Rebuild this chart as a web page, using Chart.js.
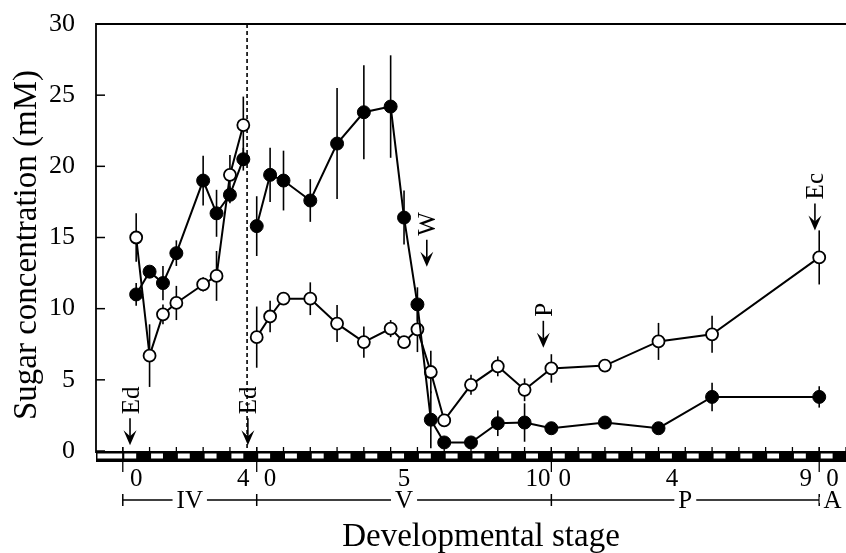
<!DOCTYPE html>
<html>
<head>
<meta charset="utf-8">
<script src="https://cdn.jsdelivr.net/npm/chart.js@4.4.0/dist/chart.umd.min.js"></script>
<style>
  html, body { margin: 0; padding: 0; background: #fff; overflow: hidden; }
  canvas { display: block; }
</style>
</head>
<body>
<canvas id="sugarChart" width="846" height="553"></canvas>
<script>
// days counted from day 0 of stage IV (one unit = one light/dark day)
const days = [0.5, 1, 1.5, 2, 3, 3.5, 4, 4.5, 5, 5.5, 6, 7, 8, 9, 10, 10.5, 11, 11.5, 12, 13, 14, 15, 16, 18, 20, 22, 26];
const filledMean = [11.0, 12.6, 11.8, 13.9, 19.0, 16.7, 18.0, 20.5, 15.8, 19.4, 19.0, 17.6, 21.6, 23.8, 24.2, 16.4, 10.3, 2.2, 0.6, 0.6, 1.95, 2.0, 1.6, 2.0, 1.6, 3.8, 3.8];
const filledErr  = [0.8, 0.4, 1.2, 0.9, 1.75, 1.65, 0.6, 0.8, 2.1, 1.9, 2.1, 1.5, 3.9, 3.3, 3.6, 1.9, 1.2, 2.0, 0.3, 0.3, 0.9, 1.35, 0.3, 0.3, 0.3, 1.0, 0.75];
const openMean   = [15.0, 6.7, 9.6, 10.4, 11.7, 12.3, 19.4, 22.9, 8.0, 9.45, 10.7, 10.7, 8.95, 7.65, 8.6, 7.65, 8.55, 5.55, 2.15, 4.65, 5.95, 4.3, 5.8, 6.0, 7.7, 8.2, 13.6];
const openErr    = [1.7, 2.2, 0.7, 1.2, 0.5, 1.75, 1.4, 2.0, 2.15, 1.1, 0.4, 1.15, 1.3, 1.1, 0.6, 0.4, 1.6, 1.5, 0.3, 0.7, 0.7, 0.8, 1.0, 0.3, 1.3, 1.3, 1.9];

// moult IV -> V (dashed line), lines are not joined across it
const dividerDay = 4.64;

// stages and the day numbers written under the strip
const stageNames = ['IV', 'V', 'P', 'A'];
const stageStart = [0, 5, 16, 26];
const stageEnd   = [5, 16, 26, 27];
const dayTickAt    = [0.5, 4.5, 5.5, 10.5, 15.5, 16.5, 20.5, 25.5, 26.5];
const dayTickLabel = ['0', '4', '0', '5', '10', '0', '4', '9', '0'];

// event arrows
const arrowDay   = [0.27, 4.67, 11.35, 15.7, 25.84];
const arrowTip   = [0.4, 0.4, 12.95, 7.25, 15.5];
const arrowLabel = ['Ed', 'Ed', 'W', 'P', 'Ec'];

const serif = '"Liberation Serif", "DejaVu Serif", serif';

const decor = {
  id: 'decor',
  beforeDatasetsDraw(chart) {
    const {ctx, chartArea: a, scales: {x, y}} = chart;
    ctx.save();
    ctx.strokeStyle = '#000';
    ctx.lineWidth = 1.6;
    [[filledMean, filledErr], [openMean, openErr]].forEach(([m, e]) => {
      days.forEach((d, i) => {
        const px = x.getPixelForValue(d);
        ctx.beginPath();
        ctx.moveTo(px, y.getPixelForValue(m[i] + e[i]));
        ctx.lineTo(px, y.getPixelForValue(Math.max(0, m[i] - e[i])));
        ctx.stroke();
      });
    });
    // dashed divider
    const dx = x.getPixelForValue(dividerDay);
    ctx.setLineDash([4, 3]);
    ctx.lineWidth = 1.6;
    ctx.beginPath();
    ctx.moveTo(dx, a.top);
    ctx.lineTo(dx, a.bottom);
    ctx.stroke();
    ctx.restore();
  },
  afterDraw(chart) {
    const {ctx, chartArea: a, scales: {x, y}} = chart;
    ctx.save();
    ctx.strokeStyle = '#000';
    ctx.fillStyle = '#000';
    const line = (x0, y0, x1, y1, w) => {
      ctx.lineWidth = w;
      ctx.beginPath(); ctx.moveTo(x0, y0); ctx.lineTo(x1, y1); ctx.stroke();
    };

    // frame and inward ticks
    line(a.left, a.top, a.right, a.top, 2);
    line(a.left, a.top - 1, a.left, a.bottom + 2, 1.8);
    y.ticks.forEach(t => {
      const py = y.getPixelForValue(t.value);
      line(a.left, py, a.left + 9, py, 1.5);
    });

    // light/dark strip
    const sTop = a.bottom, sBot = a.bottom + 11;
    ctx.fillStyle = '#000';
    ctx.fillRect(a.left, sTop, a.right - a.left, sBot - sTop);
    ctx.fillStyle = '#fff';
    for (let d = -1; d <= 26; d++) {
      const x0 = x.getPixelForValue(d);
      const x1 = x.getPixelForValue(d < 0 ? 0 : d + 0.5);
      ctx.fillRect(x0 + 1.5, sTop + 2.5, x1 - x0 - 1.5, 5);
    }
    for (let d = 0; d <= 27; d++) {
      const px = x.getPixelForValue(d);
      line(px, sTop - 4, px, sTop, 1.3);
    }
    stageStart.forEach(d => {
      const px = x.getPixelForValue(d);
      line(px, sTop - 4, px, sBot + 10, 1.3);
    });

    // day numbers
    ctx.fillStyle = '#000';
    ctx.font = '25px ' + serif;
    ctx.textAlign = 'center';
    ctx.textBaseline = 'middle';
    dayTickAt.forEach((d, i) => ctx.fillText(dayTickLabel[i], x.getPixelForValue(d), sBot + 17));

    // stage bar
    const rowY = sBot + 38;
    line(x.getPixelForValue(stageStart[0]), rowY, x.getPixelForValue(stageStart[stageStart.length - 1]), rowY, 1.5);
    stageStart.forEach(d => {
      const px = x.getPixelForValue(d);
      line(px, rowY - 6, px, rowY + 6, 1.5);
    });
    ctx.font = '25px ' + serif;
    stageNames.forEach((s, i) => {
      const cx = x.getPixelForValue((stageStart[i] + stageEnd[i]) / 2);
      const w = ctx.measureText(s).width;
      ctx.fillStyle = '#fff';
      ctx.fillRect(cx - w / 2 - 4, rowY - 3, w + 8, 6);
      ctx.fillStyle = '#000';
      ctx.fillText(s, cx, rowY + 1);
    });

    // axis titles
    ctx.font = '33px ' + serif;
    ctx.fillText('Developmental stage', 481, 537);
    ctx.save();
    ctx.translate(27, 245);
    ctx.rotate(-Math.PI / 2);
    ctx.font = '33px ' + serif;
    ctx.fillText('Sugar concentration (mM)', 0, 0);
    ctx.restore();

    // event arrows
    ctx.font = '25px ' + serif;
    arrowDay.forEach((d, i) => {
      const px = x.getPixelForValue(d);
      const tip = y.getPixelForValue(arrowTip[i]);
      line(px, tip - 8, px, tip - 27, 1.6);
      ctx.beginPath();
      ctx.moveTo(px, tip);
      ctx.lineTo(px - 6.5, tip - 15);
      ctx.lineTo(px, tip - 9);
      ctx.lineTo(px + 6.5, tip - 15);
      ctx.closePath();
      ctx.fill();
      const w = ctx.measureText(arrowLabel[i]).width;
      ctx.save();
      ctx.translate(px + 2, tip - 31 - w / 2);
      ctx.rotate(-Math.PI / 2);
      ctx.fillText(arrowLabel[i], 0, 0);
      ctx.restore();
    });
    ctx.restore();
  }
};

const noJoin = ctx => (ctx.p0.parsed.x < dividerDay && ctx.p1.parsed.x > dividerDay) ? 'rgba(0,0,0,0)' : undefined;

new Chart(document.getElementById('sugarChart'), {
  type: 'line',
  data: {
    datasets: [
      {
        label: 'filled',
        data: days.map((d, i) => ({x: d, y: filledMean[i]})),
        borderColor: '#000',
        borderWidth: 2,
        pointRadius: 6.5,
        pointBackgroundColor: '#000',
        pointBorderColor: '#000',
        pointBorderWidth: 1,
        tension: 0,
        segment: {borderColor: noJoin}
      },
      {
        label: 'open',
        data: days.map((d, i) => ({x: d, y: openMean[i]})),
        borderColor: '#000',
        borderWidth: 2,
        pointRadius: 6,
        pointBackgroundColor: '#fff',
        pointBorderColor: '#000',
        pointBorderWidth: 1.8,
        tension: 0,
        segment: {borderColor: noJoin}
      }
    ]
  },
  options: {
    responsive: false,
    animation: false,
    clip: false,
    layout: {autoPadding: false, padding: {top: 24, right: 0, bottom: 102, left: 0}},
    plugins: {legend: {display: false}, tooltip: {enabled: false}},
    scales: {
      x: {type: 'linear', min: -1, max: 27, display: false},
      y: {
        min: 0,
        max: 30,
        ticks: {stepSize: 5, color: '#000', padding: 21, font: {family: serif, size: 26}},
        grid: {display: false, drawTicks: false},
        border: {display: false},
        afterFit: s => {
          s.width = 96;
          s.paddingTop = 0;
          s.paddingBottom = 0;
        }
      }
    }
  },
  plugins: [decor]
});
</script>
</body>
</html>
